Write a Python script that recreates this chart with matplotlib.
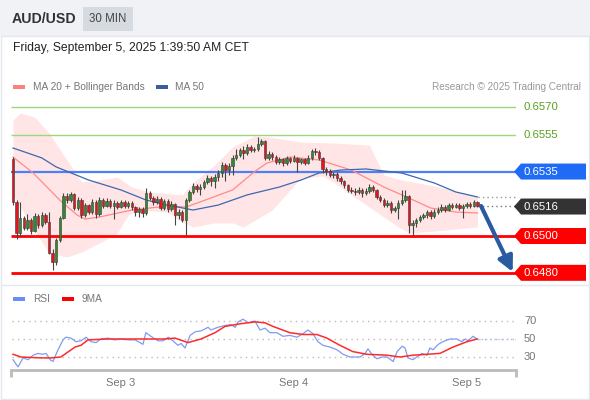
import matplotlib
matplotlib.use("Agg")
import matplotlib.pyplot as plt
from matplotlib.patches import Rectangle, Polygon
import numpy as np

plt.rcParams['font.family'] = ['Liberation Sans', 'DejaVu Sans']

# ---------------- data ----------------
first_open = 0.65418
closes = [0.65185, 0.65016, 0.65098, 0.65043, 0.65087, 0.65027, 0.65109, 0.65060, 0.65114, 0.65076,
          0.64908, 0.64859, 0.64978, 0.65098, 0.65217, 0.65195, 0.65228, 0.65152, 0.65195, 0.65114,
          0.65168, 0.65130, 0.65185, 0.65119, 0.65195, 0.65163, 0.65190, 0.65163, 0.65179, 0.65157,
          0.65185, 0.65163, 0.65179, 0.65157, 0.65130, 0.65147, 0.65125, 0.65233, 0.65206, 0.65185,
          0.65201, 0.65152, 0.65190, 0.65147, 0.65174, 0.65114, 0.65130, 0.65087, 0.65195, 0.65239,
          0.65272, 0.65255, 0.65266, 0.65293, 0.65315, 0.65299, 0.65320, 0.65342, 0.65386, 0.65358,
          0.65380, 0.65424, 0.65440, 0.65467, 0.65451, 0.65483, 0.65467, 0.65472, 0.65500, 0.65516,
          0.65424, 0.65445, 0.65429, 0.65402, 0.65418, 0.65396, 0.65424, 0.65407, 0.65424, 0.65402,
          0.65418, 0.65396, 0.65424, 0.65462, 0.65456, 0.65424, 0.65364, 0.65353, 0.65331, 0.65337,
          0.65315, 0.65299, 0.65277, 0.65250, 0.65244, 0.65239, 0.65250, 0.65233, 0.65244, 0.65266,
          0.65250, 0.65212, 0.65195, 0.65168, 0.65179, 0.65141, 0.65152, 0.65179, 0.65195, 0.65217,
          0.65060, 0.65071, 0.65087, 0.65103, 0.65114, 0.65130, 0.65109, 0.65130, 0.65141, 0.65157,
          0.65141, 0.65168, 0.65157, 0.65168, 0.65152, 0.65163, 0.65174, 0.65163, 0.65185, 0.65163]
highs = [0.65430, 0.65195, 0.65185, 0.65110, 0.65120, 0.65100, 0.65125, 0.65120, 0.65130, 0.65125,
         0.65130, 0.64930, 0.64990, 0.65110, 0.65233, 0.65235, 0.65240, 0.65235, 0.65210, 0.65205,
         0.65180, 0.65175, 0.65200, 0.65195, 0.65210, 0.65205, 0.65205, 0.65200, 0.65195, 0.65190,
         0.65195, 0.65195, 0.65190, 0.65190, 0.65165, 0.65160, 0.65155, 0.65261, 0.65245, 0.65215,
         0.65215, 0.65210, 0.65200, 0.65200, 0.65190, 0.65180, 0.65145, 0.65140, 0.65205, 0.65250,
         0.65290, 0.65285, 0.65280, 0.65305, 0.65330, 0.65325, 0.65335, 0.65360, 0.65400, 0.65395,
         0.65395, 0.65440, 0.65470, 0.65480, 0.65490, 0.65500, 0.65495, 0.65485, 0.65538, 0.65525,
         0.65520, 0.65460, 0.65455, 0.65440, 0.65430, 0.65425, 0.65435, 0.65430, 0.65440, 0.65430,
         0.65425, 0.65425, 0.65440, 0.65470, 0.65480, 0.65465, 0.65430, 0.65375, 0.65365, 0.65350,
         0.65345, 0.65325, 0.65305, 0.65285, 0.65265, 0.65260, 0.65265, 0.65260, 0.65260, 0.65280,
         0.65275, 0.65255, 0.65225, 0.65205, 0.65195, 0.65190, 0.65165, 0.65195, 0.65250, 0.65250,
         0.65225, 0.65085, 0.65100, 0.65115, 0.65125, 0.65140, 0.65140, 0.65145, 0.65155, 0.65175,
         0.65170, 0.65180, 0.65180, 0.65180, 0.65178, 0.65175, 0.65185, 0.65185, 0.65195, 0.65192]
lows = [0.65170, 0.64984, 0.65000, 0.65030, 0.65030, 0.65010, 0.65020, 0.65045, 0.65050, 0.65065,
        0.64900, 0.64815, 0.64840, 0.64965, 0.65090, 0.65180, 0.65185, 0.65140, 0.65140, 0.65100,
        0.65105, 0.65120, 0.65120, 0.65100, 0.65110, 0.65150, 0.65155, 0.65150, 0.65092, 0.65145,
        0.65150, 0.65150, 0.65150, 0.65140, 0.65110, 0.65105, 0.65105, 0.65115, 0.65195, 0.65170,
        0.65175, 0.65140, 0.65140, 0.65130, 0.65135, 0.65060, 0.65095, 0.65075, 0.65005, 0.65185,
        0.65230, 0.65240, 0.65225, 0.65255, 0.65280, 0.65270, 0.65260, 0.65300, 0.65320, 0.65300,
        0.65330, 0.65330, 0.65410, 0.65430, 0.65420, 0.65440, 0.65455, 0.65455, 0.65460, 0.65490,
        0.65410, 0.65415, 0.65415, 0.65390, 0.65390, 0.65380, 0.65385, 0.65395, 0.65400, 0.65345,
        0.65390, 0.65385, 0.65390, 0.65415, 0.65440, 0.65410, 0.65340, 0.65330, 0.65320, 0.65315,
        0.65300, 0.65285, 0.65260, 0.65240, 0.65235, 0.65225, 0.65230, 0.65210, 0.65225, 0.65235,
        0.65240, 0.65200, 0.65185, 0.65155, 0.65160, 0.65125, 0.65130, 0.65090, 0.65170, 0.65185,
        0.65016, 0.65005, 0.65050, 0.65075, 0.65090, 0.65100, 0.65095, 0.65100, 0.65120, 0.65130,
        0.65130, 0.65135, 0.65145, 0.65150, 0.65140, 0.65100, 0.65150, 0.65150, 0.65155, 0.65155]

ma50_idx = [0, 8, 12, 21, 30, 37, 43, 50, 57, 65, 74, 80, 85, 91, 98, 108, 117, 123, 129]
ma50 = [0.65478, 0.65424, 0.65375, 0.65304, 0.65250, 0.65195, 0.65168, 0.65141, 0.65168, 0.65223,
        0.65266, 0.65304, 0.65342, 0.65358, 0.65364, 0.65342, 0.65288, 0.65239, 0.65212]

ma20_idx = [0, 5.6, 13, 17.8, 20, 24, 33, 43, 48, 52, 61, 67, 70.5, 77, 85, 94, 103, 110, 116, 123, 129]
ma20 = [0.65429, 0.65342, 0.65195, 0.65114, 0.65092, 0.65103, 0.65141, 0.65163, 0.65157, 0.65185,
        0.65250, 0.65348, 0.65396, 0.65429, 0.65413, 0.65358, 0.65266, 0.65206, 0.65152, 0.65130, 0.65125]

bb_up_idx = [0, 2, 6, 10, 15, 19, 24, 29, 33, 38, 47, 50, 56, 61, 67, 71, 80, 89, 99, 103, 108, 117, 129]
bb_up = [0.65630, 0.65668, 0.65646, 0.65559, 0.65413, 0.65293, 0.65304, 0.65320, 0.65266, 0.65239,
         0.65223, 0.65288, 0.65386, 0.65483, 0.65543, 0.65538, 0.65510, 0.65505, 0.65494, 0.65331,
         0.65304, 0.65272, 0.65217]

bb_lo_idx = [0, 5, 10, 15, 19, 24, 29, 32, 35, 43, 46, 50, 56, 61, 64, 72, 80, 86, 89, 94, 101,
             107, 110, 117, 129]
bb_lo = [0.65223, 0.65060, 0.64908, 0.64886, 0.64913, 0.64962, 0.65016, 0.65114, 0.65141, 0.65130,
         0.65087, 0.65049, 0.65071, 0.65071, 0.65049, 0.65141, 0.65315, 0.65326, 0.65293, 0.65223,
         0.65130, 0.65049, 0.65016, 0.65027, 0.65049]

levels = [0.6570, 0.6555, 0.6535, 0.6516, 0.6500, 0.6480]
level_labels = ["0.6570", "0.6555", "0.6535", "0.6516", "0.6500", "0.6480"]

rsi_idx = [0, 1.4, 2.8, 4.2, 5.6, 6.9, 8.3, 9.2, 10.3, 11.1, 12.5, 13.9, 14.7, 16.1, 17.5, 18.9, 20.3,
           21.7, 23.1, 24.4, 26.4, 28.3, 30, 31.9, 33.9, 35.3, 36.1, 36.9, 38.3, 40.3, 41.7, 43.1, 44.4,
           45.8, 46.7, 47.8, 49.2, 50.6, 52.2, 54.2, 55, 56.9, 58.9, 60.6, 61.7, 62.5, 63.9, 65.3, 67.2,
           68.6, 70, 71.4, 73.3, 75, 76.9, 78.9, 80.6, 81.9, 83.3, 84.7, 86.1, 88.1, 90, 91.7, 93.6, 96.4,
           97.8, 98.6, 99.7, 101.1, 102.5, 103.9, 105.6, 106.7, 108.1, 108.9, 109.7, 111.1, 112.5, 113.6,
           115, 115.8, 116.7, 118.1, 119.4, 121.4, 123.3, 124.7, 125.6, 126.4, 127.8, 128.9]
rsi = [27, 19, 29, 27, 32, 34, 33, 34, 27, 25, 38, 49, 52, 51, 47, 48, 52, 47, 46, 50, 51, 49, 50, 49,
       49, 46, 44, 57, 53, 48, 48, 52, 48, 43, 45, 40, 54, 58, 59, 63, 60, 63, 65, 66, 63, 69, 72, 68, 70,
       60, 62, 57, 57, 53, 54, 52, 56, 60, 56, 47, 43, 41, 38, 33, 30, 30, 34, 39, 33, 28, 30, 30, 25, 36,
       42, 40, 29, 27, 31, 34, 32, 40, 38, 44, 47, 50, 50, 47, 50, 48, 53, 50]

ma9_idx = [0, 2.2, 7.8, 10.6, 13.3, 17.2, 18.9, 20.8, 26.4, 35.6, 42.2, 45, 48.6, 52.2, 56.1, 58.9, 63.3,
           67.2, 70, 72.2, 76.9, 80.6, 84.4, 87.2, 90.8, 94.4, 98.3, 103.9, 107.5, 111.1, 115, 118.6,
           122.2, 126.1, 128.9]
ma9 = [33, 30, 29, 29, 30, 41, 43, 49, 50, 50, 50, 51, 46, 50, 57, 64, 67, 69, 68, 64, 57, 55, 55, 51,
       43, 36, 33, 32, 30, 32, 33, 34, 41, 47, 50]

rsi_levels = [70, 50, 30]
day_idx = [30, 78, 126]
day_labels = ["Sep 3", "Sep 4", "Sep 5"]

# ---------------- figure ----------------
W, H = 590, 400
fig = plt.figure(figsize=(W / 100, H / 100), dpi=100)
fig.patch.set_facecolor('white')

ov = fig.add_axes([0, 0, 1, 1], zorder=0)
ov.set_xlim(0, W)
ov.set_ylim(H, 0)
ov.axis('off')
ov.add_patch(Rectangle((0, 0), W, 36, facecolor='#f0f2f5', edgecolor='none'))
ov.add_patch(Rectangle((0.5, 36), W - 1.5, H - 37, facecolor='white', edgecolor='#e4e7eb', lw=1))
ov.add_patch(Rectangle((83, 7), 50, 24, facecolor='#d6dae1', edgecolor='none'))
ov.text(12, 19, "AUD/USD", fontsize=10.2, fontweight='bold', color='#333333', va='center')
ov.text(108, 19, "30 MIN", fontsize=8.3, color='#444444', va='center', ha='center')
ov.text(13, 48, "Friday, September 5, 2025 1:39:50 AM CET", fontsize=8.7, color='#222222', va='center')
# legend row
ov.add_patch(Rectangle((13, 84.5), 12, 4, facecolor='#ff7f7f', edgecolor='none'))
ov.text(33, 86.5, "MA 20 + Bollinger Bands", fontsize=7.3, color='#777777', va='center')
ov.add_patch(Rectangle((156, 84.5), 12, 4, facecolor='#3a5f9e', edgecolor='none'))
ov.text(175, 86.5, "MA 50", fontsize=7.3, color='#777777', va='center')
ov.text(581, 86.5, "Research \u00a9 2025 Trading Central", fontsize=7.2, color='#999999',
        va='center', ha='right')
ov.plot([2, 588], [284.5, 284.5], color='#e4e7eb', lw=1)
ov.add_patch(Rectangle((13, 296.5), 12, 4, facecolor='#6a8ff0', edgecolor='none'))
ov.text(33, 298.5, "RSI", fontsize=7.3, color='#777777', va='center')
ov.add_patch(Rectangle((62, 296.5), 12, 4, facecolor='#ff0000', edgecolor='none'))
ov.text(82, 298.5, "9MA", fontsize=7.3, color='#777777', va='center')

# ---------------- main price axes ----------------
px_per_idx = 3.6
x0_px = 13.0
xl = (11 - x0_px) / px_per_idx
xr = (516 - x0_px) / px_per_idx
ax = fig.add_axes([11 / W, 1 - 282 / H, 505 / W, 192 / H], zorder=2)
ax.set_facecolor('none')
ax.set_xlim(xl, xr)
ax.set_ylim(0.647502, 0.657928)
ax.axis('off')

n = len(closes)
idx = list(range(n))
opens = [first_open] + closes[:-1]

# Bollinger band fill
grid = np.linspace(0, n - 1, 400)
up_i = np.interp(grid, bb_up_idx, bb_up)
lo_i = np.interp(grid, bb_lo_idx, bb_lo)
ax.fill_between(grid, lo_i, up_i, color='#ffe5e5', lw=0, zorder=1)

# level lines
lvl_colors = ['#9ed67f', '#9ed67f', '#4d7ff5', None, '#ff0000', '#ff0000']
lvl_lw = [1, 1, 1.6, 0, 2, 2]
for p, c, lw in zip(levels, lvl_colors, lvl_lw):
    if c:
        ax.plot([xl, xr], [p, p], color=c, lw=lw, zorder=2, solid_capstyle='butt')

ax.plot(ma20_idx, ma20, color='#ff8a8a', lw=0.9, zorder=3)
ax.plot(ma50_idx, ma50, color='#3d68b0', lw=0.9, zorder=3)

# candles
for i, o, h, l, c in zip(idx, opens, highs, lows, closes):
    ax.plot([i, i], [l, h], color='#444444', lw=0.8, zorder=4, solid_capstyle='butt')
    col = '#2e8b2e' if c >= o else '#e5131b'
    bot = min(o, c)
    hgt = max(abs(c - o), 0.00004)
    ax.add_patch(Rectangle((i - 0.33, bot), 0.66, hgt, facecolor=col, edgecolor='#3a3a3a',
                           lw=0.4, zorder=5))

# dotted extensions
ax.plot([n - 1 + 0.3, xr - 0.3], [ma50[-1], ma50[-1]], color='#999999', lw=1, ls=(0, (1, 2.2)), zorder=3)
ax.plot([n - 1 + 0.3, xr - 0.3], [closes[-1], closes[-1]], color='#777777', lw=1, ls=(0, (1, 2.2)), zorder=3)

# arrow
ax.annotate('', xy=(138.8, 0.64805), xytext=(130.0, closes[-1]),
            arrowprops=dict(arrowstyle='-|>,head_length=0.9,head_width=0.45', color='#2a5a9f',
                            lw=3, shrinkA=0, shrinkB=0), zorder=6, annotation_clip=False)

# labels / tags
half = 8 / 192 * (0.657928 - 0.647502)
tip = (514 - x0_px) / px_per_idx
nb = (521 - x0_px) / px_per_idx
rt = (586 - x0_px) / px_per_idx
txt_x = (524 - x0_px) / px_per_idx
tag_colors = [None, None, '#1f6bf5', '#333333', '#ff0000', '#ff0000']
for p, lab, tc in zip(levels, level_labels, tag_colors):
    if tc:
        poly = Polygon([(tip, p), (nb, p + half), (rt, p + half), (rt, p - half), (nb, p - half)],
                       closed=True, facecolor=tc, edgecolor='none', clip_on=False, zorder=6)
        ax.add_patch(poly)
        ax.text(txt_x, p, lab, color='white', fontsize=8.2, va='center', ha='left', clip_on=False, zorder=7)
    else:
        ax.text(txt_x, p, lab, color='#5aa01e', fontsize=8.2, va='center', ha='left', clip_on=False, zorder=7)

# ---------------- RSI axes ----------------
ra = fig.add_axes([11 / W, 1 - 370 / H, 505 / W, 65 / H], zorder=2)
ra.set_facecolor('none')
ra.set_xlim(xl, xr)
ra.set_ylim(50 - 31 / 0.9, 50 + 34 / 0.9)
for s in ['top', 'right', 'left']:
    ra.spines[s].set_visible(False)
ra.spines['bottom'].set_color('#bbbbbb')
ra.spines['bottom'].set_linewidth(2)
ra.set_yticks([])
ra.set_xticks(day_idx)
ra.set_xticklabels(day_labels, fontsize=8, color='#777777')
ra.tick_params(axis='x', length=0, pad=6)
ra.set_xticks([xl + 0.1, xr - 0.1], minor=True)
ra.tick_params(axis='x', which='minor', length=5, width=2, color='#bbbbbb')
for v in rsi_levels:
    ra.plot([xl + 0.3, xr - 0.3], [v, v], color='#bbbbbb', lw=1, ls=(0, (1, 3)), zorder=1)
    ra.text(txt_x, v, str(v), fontsize=8, color='#777777', va='center', ha='left', clip_on=False)
ra.plot([rsi_idx[-1], xr - 0.3], [rsi[-1], rsi[-1]], color='#a8bdf2', lw=1, ls=(0, (1, 2)), zorder=2)
ra.plot(rsi_idx, rsi, color='#7f9cf0', lw=0.9, zorder=3)
ra.plot(ma9_idx, ma9, color='#ff2a2a', lw=1.1, zorder=4)

fig.savefig('out.png', dpi=100)
